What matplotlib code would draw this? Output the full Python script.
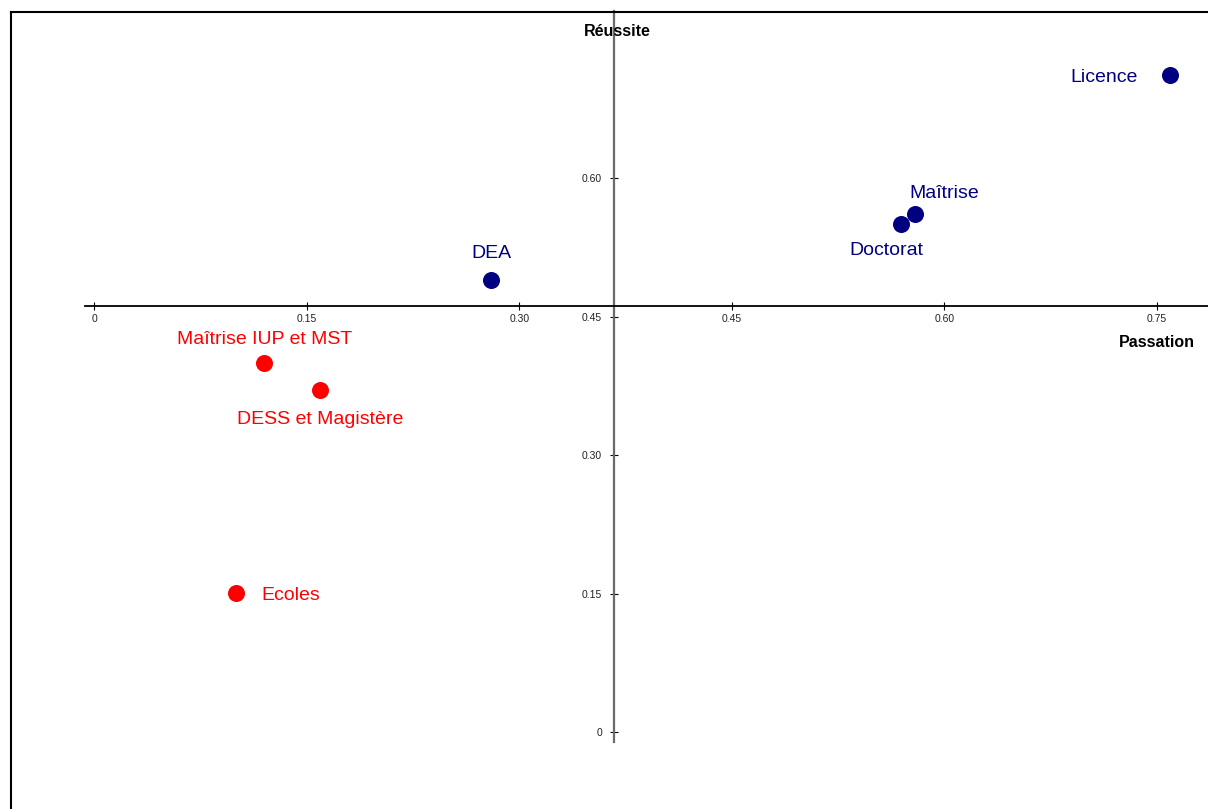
import matplotlib
matplotlib.use("Agg")
import matplotlib.pyplot as plt
from matplotlib.lines import Line2D

plt.rcParams['font.family'] = ['Liberation Sans', 'DejaVu Sans']

# Data
labels_blue = ["Licence", "Maîtrise", "Doctorat", "DEA"]
x_blue = [0.759, 0.579, 0.569, 0.280]
y_blue = [0.712, 0.561, 0.550, 0.490]

labels_red = ["Maîtrise IUP et MST", "DESS et Magistère", "Ecoles"]
x_red = [0.120, 0.159, 0.100]
y_red = [0.400, 0.371, 0.151]

xticks = [0, 0.15, 0.30, 0.45, 0.60, 0.75]
xtick_labels = ["0", "0.15", "0.30", "0.45", "0.60", "0.75"]
yticks = [0, 0.15, 0.30, 0.45, 0.60]
ytick_labels = ["0", "0.15", "0.30", "0.45", "0.60"]

x_cross = 0.367   # position of the vertical axis (Réussite)
y_cross = 0.4614  # position of the horizontal axis (Passation)

W, H = 1208, 809
fig = plt.figure(figsize=(W / 100, H / 100), dpi=100)
fig.patch.set_facecolor("white")
ax = fig.add_axes([11 / W, 0, 1 - 11 / W, 1 - 11 / H])
ax.set_xlim(-0.0589, 0.786)
ax.set_ylim(-0.0834, 0.781)
ax.patch.set_alpha(0)

navy = "#000080"
red = "#ff0000"

ax.scatter(x_blue, y_blue, s=150, color=navy, zorder=5, linewidths=0)
ax.scatter(x_red, y_red, s=150, color=red, zorder=5, linewidths=0)

offsets_blue = [((-23, -2), "right", "center"),
                ((-3.5, 15), "left", "center"),
                ((-10, -19), "center", "center"),
                ((0, 18.5), "center", "center")]
offsets_red = [((0, 16.5), "center", "center"),
               ((0, -21.5), "center", "center"),
               ((18.5, -2), "left", "center")]

for lab, x, y, (off, ha, va) in zip(labels_blue, x_blue, y_blue, offsets_blue):
    ax.annotate(lab, (x, y), xytext=off, textcoords="offset points",
                ha=ha, va=va, color=navy, fontsize=14)
for lab, x, y, (off, ha, va) in zip(labels_red, x_red, y_red, offsets_red):
    ax.annotate(lab, (x, y), xytext=off, textcoords="offset points",
                ha=ha, va=va, color=red, fontsize=14)

# Centered axes
for s in ["top", "right"]:
    ax.spines[s].set_visible(False)
ax.spines["bottom"].set_position(("data", y_cross))
ax.spines["left"].set_position(("data", x_cross))
ax.spines["bottom"].set_bounds(-0.007, 0.786)
ax.spines["left"].set_bounds(-0.011, 0.781)
ax.spines["bottom"].set_color("black")
ax.spines["bottom"].set_linewidth(1.3)
ax.spines["left"].set_color("#6a6a6a")
ax.spines["left"].set_linewidth(1.6)

ax.set_xticks(xticks)
ax.set_xticklabels(xtick_labels)
ax.set_yticks(yticks)
ax.set_yticklabels(ytick_labels)
ax.tick_params(axis="both", direction="inout", length=6, width=0.8,
               labelsize=7.5, colors="black", labelcolor="#222222")
ax.tick_params(axis="x", pad=3)
ax.tick_params(axis="y", pad=6)

ax.text(0.369, 0.7592, "Réussite", ha="center", va="center",
        fontsize=11.5, fontweight="bold", color="black")
ax.text(0.7496, 0.4218, "Passation", ha="center", va="center",
        fontsize=11.5, fontweight="bold", color="black")

# Frame (top and left borders)
fig.add_artist(Line2D([11 / W, 1], [1 - 12 / H, 1 - 12 / H], color="black", lw=1.5))
fig.add_artist(Line2D([11 / W, 11 / W], [0, 1 - 12 / H], color="black", lw=1.5))

fig.savefig("out.png", dpi=100, facecolor="white")
